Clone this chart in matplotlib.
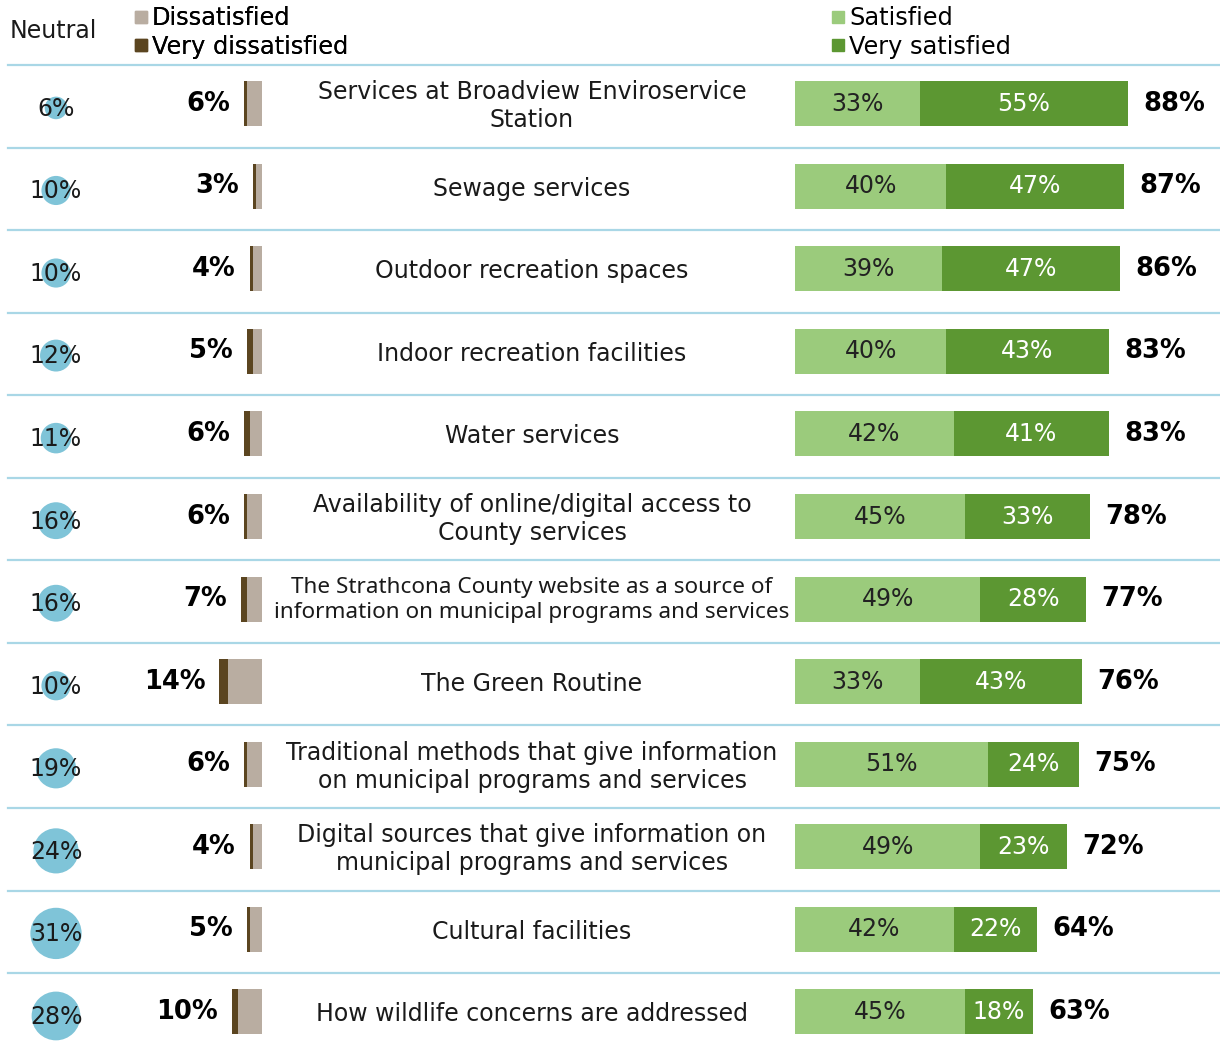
import numpy as np
import matplotlib
matplotlib.use("Agg")
from matplotlib import pyplot as plt
from matplotlib.lines import Line2D

# dati
categories = [
    "Services at Broadview Enviroservice\nStation",
    "Sewage services",
    "Outdoor recreation spaces",
    "Indoor recreation facilities",
    "Water services",
    "Availability of online/digital access to\nCounty services",
    "The Strathcona County website as a source of\ninformation on municipal programs and services",
    "The Green Routine",
    "Traditional methods that give information\non municipal programs and services",
    "Digital sources that give information on\nmunicipal programs and services",
    "Cultural facilities",
    "How wildlife concerns are addressed",
]
neutral = [6, 10, 10, 12, 11, 16, 16, 10, 19, 24, 31, 28]
dissatisfied = [5, 2, 3, 3, 4, 5, 5, 11, 5, 3, 4, 8]
very_dissatisfied = [1, 1, 1, 2, 2, 1, 2, 3, 1, 1, 1, 2]
dis_total = [6, 3, 4, 5, 6, 6, 7, 14, 6, 4, 5, 10]
satisfied = [33, 40, 39, 40, 42, 45, 49, 33, 51, 49, 42, 45]
very_satisfied = [55, 47, 47, 43, 41, 33, 28, 43, 24, 23, 22, 18]
sat_total = [88, 87, 86, 83, 83, 78, 77, 76, 75, 72, 64, 63]

# colori
c_neutral = "#7fc4d8"
c_dis = "#b9ada1"
c_vdis = "#5b4520"
c_sat = "#9bcb7c"
c_vsat = "#5c9732"
c_line = "#a9d7e6"
c_text = "#1a1a1a"

fs = 17      # testo normale
fs_b = 18.5  # percentuali in grassetto

W, H = 1220, 1051
fig = plt.figure(figsize=(W / 100, H / 100), dpi=100)
plt.rcParams['font.family'] = 'DejaVu Sans'

n = len(categories)
rows = np.arange(n)
row_h = 82.55
top_px = 65
bot_px = top_px + n * row_h
y0 = 1 - bot_px / H
hh = (bot_px - top_px) / H
bh = 45 / row_h  # altezza barre


def make_ax(x_left, x_right):
    ax = fig.add_axes([x_left / W, y0, (x_right - x_left) / W, hh])
    ax.set_ylim(n - 0.5, -0.5)
    ax.axis('off')
    return ax


# sfondo con le righe di separazione
ax_bg = make_ax(8, W)
ax_bg.set_xlim(0, 1)
for k in range(n):
    ax_bg.axhline(k - 0.5, color=c_line, lw=1.6, clip_on=False)
xc = (532 - 8) / (W - 8)
for i, cat in enumerate(categories):
    if i == 6:
        ax_bg.text(xc, i - 0.02, cat, ha='center', va='center',
                   fontsize=16.2, family='Noto Sans', color=c_text, linespacing=1.22)
    else:
        ax_bg.text(xc, i + 0.0, cat, ha='center', va='center',
                   fontsize=fs, color=c_text, linespacing=1.22)

# neutrali
ax_n = make_ax(0, 112)
ax_n.set_xlim(-1, 1)
ax_n.scatter(np.zeros(n), rows + 0.02, s=np.array(neutral) * 44,
             color=c_neutral, linewidths=0, zorder=2)
for i, v in enumerate(neutral):
    ax_n.text(0, i + 0.03, f"{v}%", ha='center', va='center', fontsize=fs,
              color=c_text, zorder=3)

# insoddisfatti (verso sinistra)
ax_d = make_ax(112, 262)
ax_d.set_xlim(150 / 3.05, 0)
ax_d.barh(rows - 0.03, dissatisfied, height=bh, color=c_dis)
ax_d.barh(rows - 0.03, very_dissatisfied, left=dissatisfied, height=bh, color=c_vdis)
for i, v in enumerate(dis_total):
    ax_d.annotate(f"{v}%", xy=(v, i - 0.03), xytext=(-10, 0), textcoords='offset points',
                  ha='right', va='center', fontsize=fs_b, fontweight='bold', color='black')

# soddisfatti
ax_s = make_ax(795, W)
ax_s.set_xlim(0, (W - 795) / 3.78)
ax_s.barh(rows - 0.03, satisfied, height=bh, color=c_sat)
ax_s.barh(rows - 0.03, very_satisfied, left=satisfied, height=bh, color=c_vsat)
for i in range(n):
    ax_s.text(satisfied[i] / 2, i - 0.03, f"{satisfied[i]}%", ha='center', va='center',
              fontsize=fs, color='#222222')
    ax_s.text(satisfied[i] + very_satisfied[i] / 2, i - 0.03, f"{very_satisfied[i]}%",
              ha='center', va='center', fontsize=fs, color='white')
    ax_s.annotate(f"{sat_total[i]}%", xy=(sat_total[i], i - 0.03), xytext=(11, 0),
                  textcoords='offset points', ha='left', va='center', fontsize=fs_b,
                  fontweight='bold', color='black')

# legende
fig.text(10 / W, 1 - 31 / H, "Neutral", ha='left', va='center', fontsize=fs, color=c_text)


def sq(c):
    return Line2D([], [], marker='s', ls='', markersize=9, color=c)


leg1 = fig.legend([sq(c_dis), sq(c_vdis)], ["Dissatisfied", "Very dissatisfied"],
                  loc='upper left', bbox_to_anchor=(134 / W, 1 - 6 / H), frameon=False,
                  fontsize=17.3, handlelength=0.55, handletextpad=0.2, labelspacing=0.2,
                  borderpad=0, borderaxespad=0)
fig.legend([sq(c_sat), sq(c_vsat)], ["Satisfied", "Very satisfied"],
           loc='upper left', bbox_to_anchor=(831 / W, 1 - 6 / H), frameon=False,
           fontsize=17.3, handlelength=0.55, handletextpad=0.2, labelspacing=0.2,
           borderpad=0, borderaxespad=0)
fig.add_artist(leg1)

fig.savefig("out.png", dpi=100, facecolor='white')
